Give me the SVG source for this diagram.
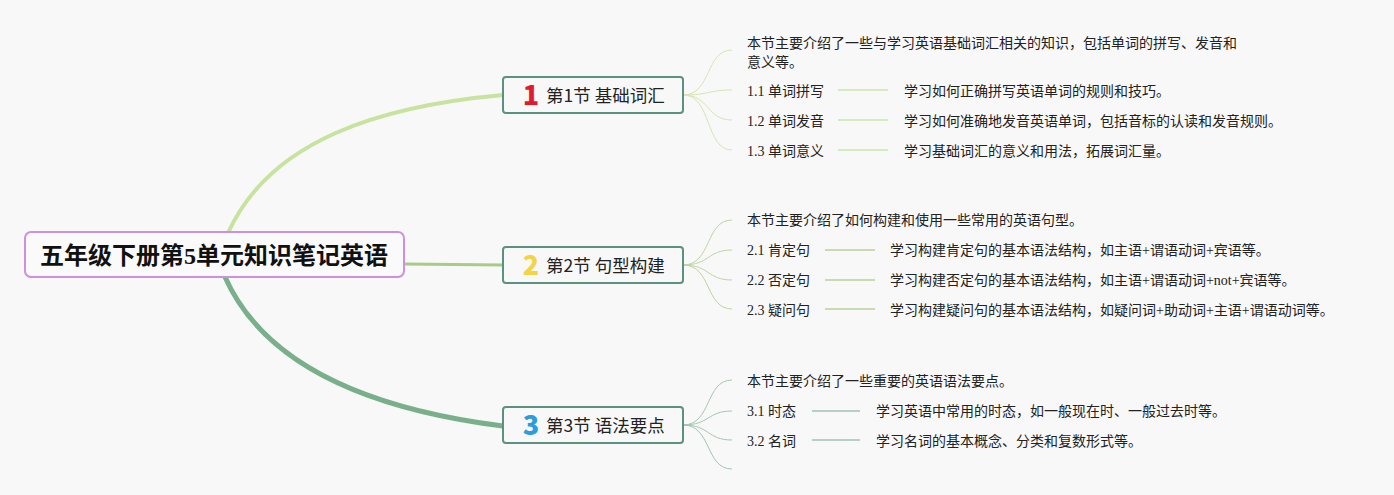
<svg xmlns="http://www.w3.org/2000/svg" width="1394" height="495" viewBox="0 0 1394 495">
<style>
.bg{fill:#f8f8f8}
.root{fill:#fafafa;stroke:#cf8ee0;stroke-width:2}
.sec{fill:#f8f8f8;stroke:#5b9180;stroke-width:2}
.title{font-family:"Liberation Serif","Noto Sans CJK SC",sans-serif;font-weight:bold;font-size:24px;fill:#111}
.st{font-family:"Noto Sans CJK SC",sans-serif;font-size:17.5px;fill:#222}
.num{font-family:"Noto Sans CJK SC",sans-serif;font-weight:900;font-size:27px}
.t{font-family:"Liberation Serif","Noto Sans CJK SC",serif;font-size:14px;fill:#222}
.c1{fill:none;stroke:#d3e6b3;stroke-width:1}
.c2{fill:none;stroke:#bcd6a2;stroke-width:1}
.c3{fill:none;stroke:#a3c7b1;stroke-width:1}
.h1{stroke:#d6e9bf;stroke-width:2}
.h2{stroke:#c6dcb0;stroke-width:2}
.h3{stroke:#b5d1c3;stroke-width:2}
</style>
<rect class="bg" x="0" y="0" width="1394" height="495"/>
<g id="connectors">
<path d="M228,233 C270,140 380,106 503,95" fill="none" stroke="#c7e39f" stroke-width="4"/>
<path d="M404,264 L503,265" fill="none" stroke="#a9cc84" stroke-width="3"/>
<path d="M225,277 C262,360 360,408 503,426" fill="none" stroke="#79b08b" stroke-width="5"/>
<path class="c1" d="M683,95 C712,95 705,50 732,50"/>
<path class="c1" d="M683,95 C710,95 708,90 732,90"/>
<path class="c1" d="M683,95 C710,95 706,120 732,120"/>
<path class="c1" d="M683,95 C712,95 705,150 732,150"/>
<line class="h1" x1="838" y1="90" x2="888" y2="90"/>
<line class="h1" x1="838" y1="120" x2="888" y2="120"/>
<line class="h1" x1="838" y1="150" x2="888" y2="150"/>
<path class="c2" d="M683,265 C712,265 705,220 732,220"/>
<path class="c2" d="M683,265 C710,265 707,250 732,250"/>
<path class="c2" d="M683,265 C710,265 707,280 732,280"/>
<path class="c2" d="M683,265 C712,265 705,309 732,309"/>
<line class="h2" x1="825" y1="250" x2="875" y2="250"/>
<line class="h2" x1="825" y1="280" x2="875" y2="280"/>
<line class="h2" x1="825" y1="309" x2="875" y2="309"/>
<path class="c3" d="M683,425 C712,425 705,380 732,380"/>
<path class="c3" d="M683,425 C710,425 707,411 732,411"/>
<path class="c3" d="M683,425 C710,425 707,440 732,440"/>
<path class="c3" d="M683,425 C712,425 705,469 732,469"/>
<line class="h3" x1="812" y1="411" x2="860" y2="411"/>
<line class="h3" x1="812" y1="440" x2="860" y2="440"/>
</g>
<g id="root">
<rect class="root" x="25" y="232" width="379" height="45" rx="6"/>
<text class="title" x="214" y="264" text-anchor="middle">五年级下册第5单元知识笔记英语</text>
</g>
<g id="sec1">
<rect class="sec" x="503" y="77" width="180" height="36" rx="3"/>
<text class="num" x="531" y="105" text-anchor="middle" fill="#e3192e">1</text>
<text class="st" x="546" y="102">第1节 基础词汇</text>
</g>
<g id="sec2">
<rect class="sec" x="503" y="247" width="180" height="36" rx="3"/>
<text class="num" x="531" y="275" text-anchor="middle" fill="#f4d447">2</text>
<text class="st" x="546" y="272">第2节 句型构建</text>
</g>
<g id="sec3">
<rect class="sec" x="503" y="407" width="180" height="36" rx="3"/>
<text class="num" x="531" y="435" text-anchor="middle" fill="#2a9ce0">3</text>
<text class="st" x="546" y="432">第3节 语法要点</text>
</g>
<g id="s1-intro"><text class="t" x="747" y="48">本节主要介绍了一些与学习英语基础词汇相关的知识，包括单词的拼写、发音和</text><text class="t" x="747" y="67">意义等。</text></g>
<g id="s1-1"><text class="t" x="747" y="96">1.1 单词拼写</text><text class="t" x="904" y="96">学习如何正确拼写英语单词的规则和技巧。</text></g>
<g id="s1-2"><text class="t" x="747" y="126">1.2 单词发音</text><text class="t" x="904" y="126">学习如何准确地发音英语单词，包括音标的认读和发音规则。</text></g>
<g id="s1-3"><text class="t" x="747" y="156">1.3 单词意义</text><text class="t" x="904" y="156">学习基础词汇的意义和用法，拓展词汇量。</text></g>
<g id="s2-intro"><text class="t" x="747" y="225">本节主要介绍了如何构建和使用一些常用的英语句型。</text></g>
<g id="s2-1"><text class="t" x="747" y="255">2.1 肯定句</text><text class="t" x="890" y="255">学习构建肯定句的基本语法结构，如主语+谓语动词+宾语等。</text></g>
<g id="s2-2"><text class="t" x="747" y="285">2.2 否定句</text><text class="t" x="890" y="285">学习构建否定句的基本语法结构，如主语+谓语动词+not+宾语等。</text></g>
<g id="s2-3"><text class="t" x="747" y="315">2.3 疑问句</text><text class="t" x="890" y="315">学习构建疑问句的基本语法结构，如疑问词+助动词+主语+谓语动词等。</text></g>
<g id="s3-intro"><text class="t" x="747" y="386">本节主要介绍了一些重要的英语语法要点。</text></g>
<g id="s3-1"><text class="t" x="747" y="416">3.1 时态</text><text class="t" x="876" y="416">学习英语中常用的时态，如一般现在时、一般过去时等。</text></g>
<g id="s3-2"><text class="t" x="747" y="446">3.2 名词</text><text class="t" x="876" y="446">学习名词的基本概念、分类和复数形式等。</text></g>
</svg>
